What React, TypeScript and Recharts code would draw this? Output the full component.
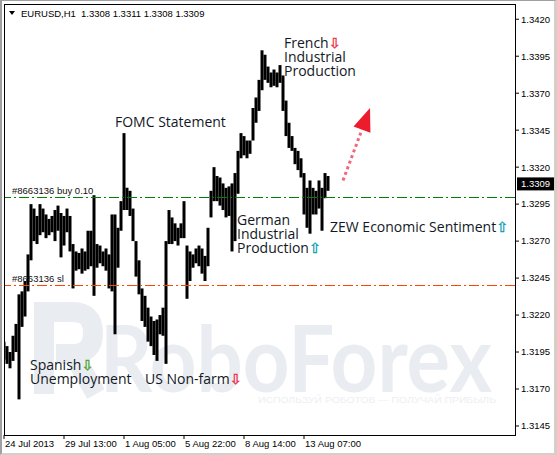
import React from "react";
import { ComposedChart, Bar, XAxis, YAxis, ReferenceLine } from "recharts";

// EURUSD H1 bar ranges, one entry per bar slot (left to right)
const barHigh = [
  1.3202, 1.3199, 1.3195, 1.3206, 1.3214, 1.3234, 1.3236, 1.3243, 1.3261, 1.3295,
  1.3292, 1.3287, 1.3295, 1.3292, 1.3288, 1.3285, 1.3287, 1.3291, 1.3294, 1.3289,
  1.3287, 1.3292, 1.3287, 1.3268, 1.3263, 1.3262, 1.3265, 1.3263, 1.3277, 1.3277,
  1.3301, 1.3268, 1.3267, 1.3263, 1.3265, 1.3261, 1.3288, 1.3288, 1.3279, 1.3297,
  1.3343, 1.3306, 1.3304, 1.3292, 1.327, 1.3257, 1.3238, 1.3233, 1.3225, 1.3219,
  1.3216, 1.3217, 1.322, 1.3225, 1.327, 1.3291, 1.3286, 1.3282, 1.3279, 1.3282,
  1.3297, 1.3267, 1.3263, 1.3261, 1.3265, 1.3267, 1.3265, 1.326, 1.3279, 1.3304,
  1.332, 1.3314, 1.3313, 1.3309, 1.3306, 1.3307, 1.3309, 1.3316, 1.3331, 1.3343,
  1.3341, 1.3338, 1.3338, 1.336, 1.3367, 1.3379, 1.3399, 1.3396, 1.3388, 1.3384,
  1.3386, 1.3384, 1.3389, 1.3382, 1.3365, 1.335, 1.3341, 1.3333, 1.3331, 1.3326,
  1.3316, 1.3306, 1.3311, 1.3306, 1.3304, 1.3311, 1.3306, 1.3316, 1.3314,
];
const barLow = [
  1.319, 1.3187, 1.3184, 1.3189, 1.3195, 1.3163, 1.3212, 1.3219, 1.3236, 1.3257,
  1.327, 1.3268, 1.3274, 1.3276, 1.3272, 1.3274, 1.3276, 1.327, 1.3277, 1.3259,
  1.3267, 1.3276, 1.3263, 1.3238, 1.325, 1.3251, 1.3248, 1.325, 1.3251, 1.3253,
  1.3233, 1.3252, 1.3255, 1.3253, 1.325, 1.3238, 1.3236, 1.3207, 1.3252, 1.3277,
  1.3291, 1.3291, 1.3287, 1.327, 1.3246, 1.3234, 1.3216, 1.3212, 1.3202, 1.3199,
  1.3193, 1.3189, 1.3207, 1.3206, 1.3187, 1.3268, 1.3268, 1.327, 1.3267, 1.3272,
  1.3272, 1.3231, 1.3243, 1.3252, 1.3255, 1.3253, 1.3248, 1.3243, 1.3253, 1.3286,
  1.3297, 1.3297, 1.3294, 1.3291, 1.3286, 1.3287, 1.3263, 1.327, 1.3302, 1.3326,
  1.3328, 1.3326, 1.3329, 1.3338, 1.335, 1.3358, 1.3372, 1.3379, 1.3377, 1.3374,
  1.3375, 1.3374, 1.3377, 1.3358, 1.3341, 1.3333, 1.3331, 1.3322, 1.3318, 1.3313,
  1.3288, 1.3279, 1.3275, 1.3288, 1.3288, 1.3292, 1.3277, 1.3299, 1.3304,
];

const priceTicks = [
  1.3145, 1.317, 1.3195, 1.322, 1.3245, 1.327, 1.3295, 1.332, 1.3345, 1.337, 1.3395, 1.342,
];
const timeTickIndex = [0, 20, 40, 60, 80, 100];
const timeTickLabels = [
  "24 Jul 2013", "29 Jul 13:00", "1 Aug 05:00", "5 Aug 22:00", "8 Aug 14:00", "13 Aug 07:00",
];

const symbol = "EURUSD,H1";
const lastQuote = [1.3308, 1.3311, 1.3308, 1.3309]; // open, high, low, close
const buyPrice = 1.33;
const stopPrice = 1.324;
// forecast arrow: [bar slot, price] at start and tip
const forecastFrom = [113, 1.3311];
const forecastTo = [122, 1.336];

const bars = barHigh.map((h, i) => ({ i, high: h, low: barLow[i] }));

const MT_FONT = "'Liberation Sans', Arial, sans-serif";
const NOTE_FONT = "'Open Sans', sans-serif";
const ARROW_FONT = "'DejaVu Sans', sans-serif";

function TimeTick(props: any) {
  const { x, y, payload } = props;
  const label = timeTickLabels[timeTickIndex.indexOf(payload.value)];
  return (
    <text x={x + 1} y={y + 6} fontSize={9.5} fontFamily={MT_FONT} fill="#000" textAnchor="start">
      {label}
    </text>
  );
}

// dash-dot order line snapped to a whole pixel row
function OrderLine(props: any) {
  const { x1, y1, x2, tone } = props;
  const y = Math.round(y1) + 0.5;
  return (
    <line
      x1={x1}
      y1={y}
      x2={x2}
      y2={y}
      style={{ stroke: tone, strokeWidth: 1, strokeDasharray: "10 3 2 3" }}
    />
  );
}

function OrderLabel(props: any) {
  const { viewBox, text } = props;
  return (
    <text x={viewBox.x + 8} y={viewBox.y - 3} fontSize={9.5} fontFamily={MT_FONT} fill="#101010">
      {text}
    </text>
  );
}

function PriceTag(props: any) {
  const { viewBox } = props;
  const x = viewBox.x + viewBox.width + 2;
  return (
    <g>
      <rect x={x} y={viewBox.y - 6} width={37} height={13} fill="#000" />
      <text x={x + 4} y={viewBox.y + 4} fontSize={9.5} fontFamily={MT_FONT} fill="#fff">
        {lastQuote[3].toFixed(4)}
      </text>
    </g>
  );
}

function ForecastArrow(props: any) {
  const { x1, y1, x2, y2 } = props;
  const len = Math.hypot(x2 - x1, y2 - y1);
  const ux = (x2 - x1) / len;
  const uy = (y2 - y1) / len;
  const head = 23;
  const half = 9;
  const bx = x2 - ux * head;
  const by = y2 - uy * head;
  return (
    <g>
      <line x1={x1} y1={y1} x2={bx} y2={by} stroke="#f2657a" strokeWidth={3} strokeDasharray="3 3" />
      <polygon
        points={`${x2},${y2} ${bx - uy * half},${by + ux * half} ${bx + uy * half},${by - ux * half}`}
        fill="#ec1c2c"
      />
    </g>
  );
}

type Note = { lines: string[]; x: number; y: number; arrow: "up" | "down"; color: string };

const notes: Note[] = [
  { lines: ["FOMC Statement"], x: 115, y: 127, arrow: "up", color: "" },
  { lines: ["French", "Industrial", "Production"], x: 284, y: 48, arrow: "down", color: "#f0304f" },
  { lines: ["German", "Industrial", "Production"], x: 237, y: 225, arrow: "up", color: "#0a9fb2" },
  { lines: ["ZEW Economic Sentiment"], x: 330, y: 232, arrow: "up", color: "#0a9fb2" },
  { lines: ["Spanish", "Unemployment"], x: 30, y: 369.5, arrow: "down", color: "#4fa52a" },
  { lines: ["US Non-farm"], x: 145, y: 383.5, arrow: "down", color: "#f0304f" },
];

function NoteText({ note }: { note: Note }) {
  // the arrow goes after the first line for down-arrows, after the last for up-arrows
  const arrowLine = note.arrow === "down" ? 0 : note.lines.length - 1;
  return (
    <text fontFamily={NOTE_FONT} fontSize={14} fill="#121826">
      {note.lines.map((line, k) => (
        <tspan key={k} x={note.x} y={note.y + k * 14}>
          {line}
          {note.color && k === arrowLine ? (
            <tspan
              fontFamily={ARROW_FONT}
              fontSize={14}
              fill={note.color}
              stroke={note.color}
              strokeWidth={0.4}
            >
              {note.arrow === "down" ? "\u21e9" : "\u21e7"}
            </tspan>
          ) : null}
        </tspan>
      ))}
    </text>
  );
}

export default function App() {
  return (
    <div
      style={{
        position: "absolute",
        left: 0,
        top: 0,
        width: 557,
        height: 455,
        background: "#fff",
        overflow: "hidden",
      }}
    >
      {/* watermark */}
      <svg width={557} height={455} style={{ position: "absolute", left: 0, top: 0 }}>
        <path
          d="M44 394 V312 H72 Q93 312 93 333 Q93 354 72 354 H56 M74 356 L96 394"
          fill="none"
          stroke="#e9ecf1"
          strokeWidth={20}
        />
        <text
          x={100}
          y={392}
          fontFamily="Lato, sans-serif"
          fontWeight={700}
          fontSize={92}
          fill="#e9ecf1"
          textLength={392}
          lengthAdjust="spacingAndGlyphs"
        >
          RoboForex
        </text>
        <text
          x={258}
          y={403}
          fontFamily={MT_FONT}
          fontSize={9}
          fill="#eceff3"
          textLength={238}
          lengthAdjust="spacingAndGlyphs"
        >
          ИСПОЛЬЗУЙ РОБОТОВ — ПОЛУЧАЙ ПРИБЫЛЬ
        </text>
      </svg>

      <div style={{ position: "absolute", left: 0, top: 0 }}>
        <ComposedChart width={557} height={455} data={bars} margin={{ top: 4, right: 0, bottom: 0, left: 4 }}>
          <XAxis
            dataKey="i"
            type="number"
            domain={[0, 170.33]}
            allowDataOverflow
            ticks={timeTickIndex}
            interval={0}
            tick={<TimeTick />}
            tickSize={4}
            tickLine={{ stroke: "#000" }}
            axisLine={false}
            height={20}
          />
          <YAxis
            orientation="right"
            type="number"
            domain={[1.31389, 1.34303]}
            allowDataOverflow
            ticks={priceTicks}
            interval={0}
            tickFormatter={(v) => v.toFixed(4)}
            tick={{ fontSize: 9.5, fontFamily: MT_FONT, fill: "#000" }}
            tickSize={4}
            tickLine={{ stroke: "#000" }}
            axisLine={false}
            width={42}
          />
          <ReferenceLine
            y={buyPrice}
            stroke="#008000"
            shape={<OrderLine tone="#008000" />}
            label={<OrderLabel text="#8663136 buy 0.10" />}
          />
          <ReferenceLine
            y={stopPrice}
            stroke="#ff4500"
            shape={<OrderLine tone="#ff4500" />}
            label={<OrderLabel text="#8663136 sl" />}
          />
          <Bar dataKey={(d: any) => [d.low, d.high]} fill="#000" barSize={3} isAnimationActive={false} />
          <ReferenceLine
            segment={[
              { x: forecastFrom[0], y: forecastFrom[1] },
              { x: forecastTo[0], y: forecastTo[1] },
            ]}
            shape={<ForecastArrow />}
          />
          <ReferenceLine y={lastQuote[3]} stroke="none" label={<PriceTag />} />
        </ComposedChart>
      </div>

      {/* frame, header and event notes */}
      <svg width={557} height={455} style={{ position: "absolute", left: 0, top: 0, pointerEvents: "none" }}>
        <rect x={4.5} y={4.5} width={511} height={431} fill="none" stroke="#000" />
        <polygon points="9,11 15,11 12,15" fill="#000" />
        <text y={17} fontSize={9.5} fontFamily={MT_FONT} fill="#000">
          <tspan x={21}>{symbol}</tspan>
          <tspan x={81}>{lastQuote.map((v) => v.toFixed(4)).join(" ")}</tspan>
        </text>
        {notes.map((n, k) => (
          <NoteText key={k} note={n} />
        ))}
      </svg>

      <div
        style={{
          position: "absolute",
          left: 0,
          top: 0,
          width: 557,
          height: 455,
          boxSizing: "border-box",
          borderLeft: "2px solid #a0a0a0",
          borderTop: "1px solid #a0a0a0",
          borderRight: "3px solid #d4d0c8",
          borderBottom: "2px solid #d4d0c8",
          pointerEvents: "none",
        }}
      />
    </div>
  );
}
